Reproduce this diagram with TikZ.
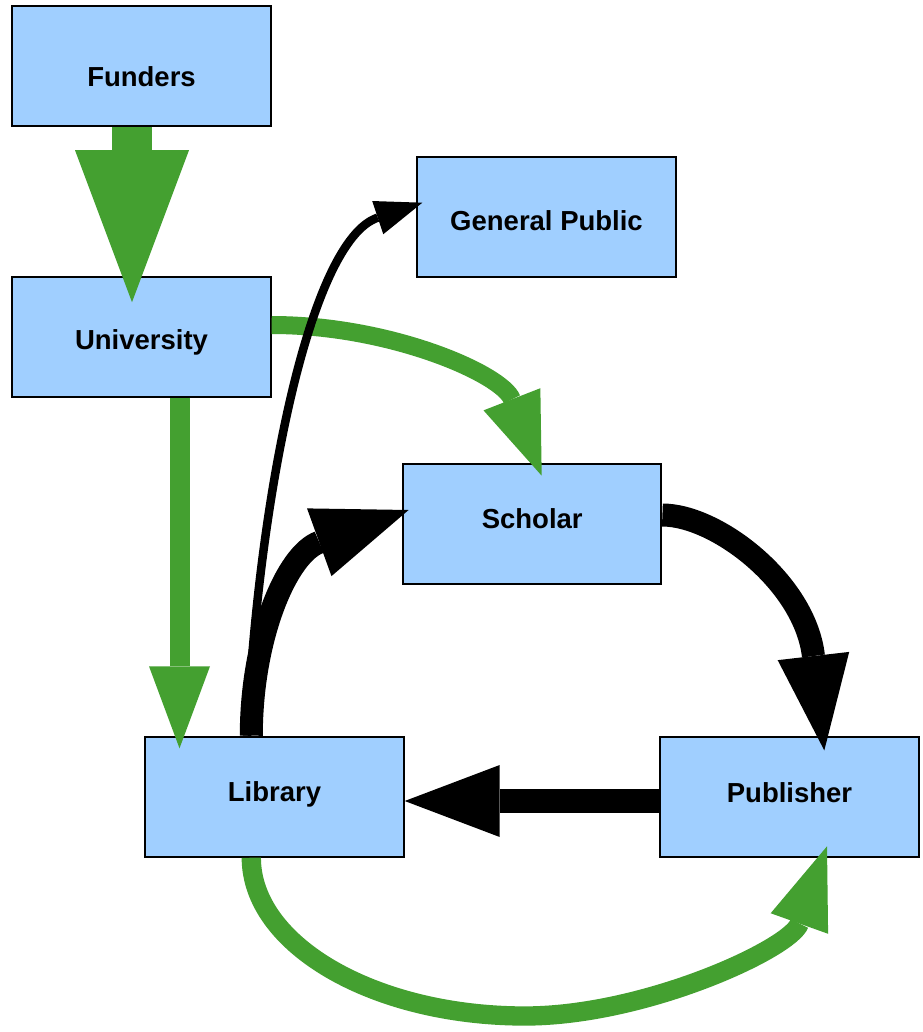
\documentclass[tikz,border=0pt]{standalone}
\usepackage{fontspec}
\setmainfont{Liberation Sans}
\usetikzlibrary{arrows.meta,calc}
\definecolor{boxblue}{RGB}{160,207,255}
\definecolor{flowgreen}{RGB}{68,160,48}
\begin{document}
\begin{tikzpicture}[x=1pt,y=-1pt,
  box/.style={draw=black, line width=2pt, fill=boxblue, minimum width=258.4pt,
    minimum height=120pt, inner sep=0pt, text depth=0pt,
    font=\fontsize{27.5}{33}\selectfont\bfseries},
  th/.style={text height=#1pt},
  gflow/.style={draw=flowgreen, fill=none, line width=#1pt},
  kflow/.style={draw=black, fill=none, line width=#1pt},
  gbigtip/.style={-{Triangle[length=152pt,width=114pt,line width=0pt]}},
  gtip/.style={-{Triangle[length=82pt,width=61pt,line width=0pt]}},
  ktip/.style={-{Triangle[length=95pt,width=72pt,line width=0pt]}},
  kthintip/.style={-{Triangle[length=47pt,width=35pt,line width=0pt]}}
]
\fill[white] (0,0) rectangle (922,1032);
\useasboundingbox (0,0) rectangle (922,1032);

% boxes
\node[box, th=41.7] (fun) at (141.5,66)    {Funders};
\node[box, th=26.1] (uni) at (141.5,336.5) {University};
\node[box, th=27.3] (gp)  at (546.5,216.7) {General Public};
\node[box, th=9.1]  (sch) at (532.2,524.3) {Scholar};
\node[box, th=9.9]  (lib) at (274.5,796.7) {Library};
\node[box, th=11.7] (pbl) at (789.5,797)   {Publisher};

\coordinate (low) at (525,1016);

% green flows
\draw[gflow=40, gbigtip] ($(fun.south)+(-9.5,0)$) -- ($(uni.north)+(-9.5,26.7)$);
\draw[gflow=20, gtip] ($(uni.south)+(38,0)$) -- ($(lib.north)+(-95,12.6)$);
\draw[gflow=18, gtip] ($(uni.east)+(0,-11.5)$) .. controls (390.7,325) and (502.1,374.1) .. ($(sch.north)+(9.5,12.4)$);
\draw[gflow=19.3, gtip] ($(lib.south)+(-23.2,0)$) .. controls (251.3,944.8) and (373.8,1016) .. (low)
   .. controls (645,1016) and (790.4,948.6) .. ($(pbl.south)+(37.5,-11.7)$);

% black flows
\draw[kflow=8.5, kthintip] ($(lib.north)+(-27.5,0)$) .. controls (258,500) and (309.4,240.5) .. ($(gp.west)+(6,-14)$);
\draw[kflow=23, ktip] ($(lib.north)+(-23.2,0)$) .. controls (251.3,637) and (287,553.9) .. ($(sch.west)+(6.6,-14.3)$);
\draw[kflow=23, ktip] ($(sch.east)+(0,-9.3)$) .. controls (716.7,515) and (805,582.8) .. ($(pbl.north)+(34.8,14.4)$);
\draw[kflow=24, ktip] ($(pbl.west)+(0,4)$) -- ($(lib.east)+(0,4.3)$);
\end{tikzpicture}
\end{document}
